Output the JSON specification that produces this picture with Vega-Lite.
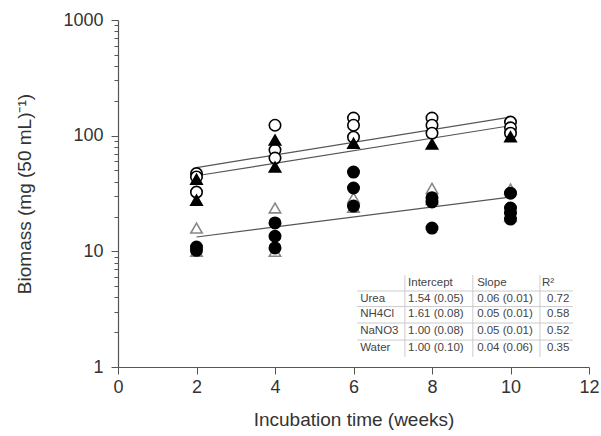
{
  "$schema": "https://vega.github.io/schema/vega-lite/v6.json",
  "width": 471,
  "height": 347,
  "autosize": {"type": "none"},
  "padding": {"left": 118, "top": 20, "right": 12, "bottom": 69},
  "background": "white",
  "config": {
    "view": {"stroke": null},
    "font": "Liberation Sans",
    "axis": {"grid": false, "domainColor": "#555", "tickColor": "#555", "labelColor": "#333", "titleColor": "#333", "labelFont": "Liberation Sans", "titleFont": "Liberation Sans", "titleFontWeight": "normal"}
  },
  "datasets": {
    "points": [
      {"week": 2, "biomass": 47, "treatment": "Urea"},
      {"week": 2, "biomass": 44, "treatment": "Urea"},
      {"week": 2, "biomass": 32.5, "treatment": "Urea"},
      {"week": 4, "biomass": 123, "treatment": "Urea"},
      {"week": 4, "biomass": 75, "treatment": "Urea"},
      {"week": 4, "biomass": 64, "treatment": "Urea"},
      {"week": 6, "biomass": 142, "treatment": "Urea"},
      {"week": 6, "biomass": 123, "treatment": "Urea"},
      {"week": 6, "biomass": 97, "treatment": "Urea"},
      {"week": 8, "biomass": 142, "treatment": "Urea"},
      {"week": 8, "biomass": 123, "treatment": "Urea"},
      {"week": 8, "biomass": 105, "treatment": "Urea"},
      {"week": 10, "biomass": 131, "treatment": "Urea"},
      {"week": 10, "biomass": 117, "treatment": "Urea"},
      {"week": 10, "biomass": 105, "treatment": "Urea"},
      {"week": 2, "biomass": 42, "treatment": "NH4Cl"},
      {"week": 2, "biomass": 27.7, "treatment": "NH4Cl"},
      {"week": 4, "biomass": 91.6, "treatment": "NH4Cl"},
      {"week": 4, "biomass": 53.6, "treatment": "NH4Cl"},
      {"week": 6, "biomass": 86, "treatment": "NH4Cl"},
      {"week": 8, "biomass": 84.6, "treatment": "NH4Cl"},
      {"week": 10, "biomass": 97.6, "treatment": "NH4Cl"},
      {"week": 2, "biomass": 15.9, "treatment": "Water"},
      {"week": 2, "biomass": 10, "treatment": "Water"},
      {"week": 4, "biomass": 23.7, "treatment": "Water"},
      {"week": 4, "biomass": 10, "treatment": "Water"},
      {"week": 6, "biomass": 29, "treatment": "Water"},
      {"week": 6, "biomass": 24, "treatment": "Water"},
      {"week": 8, "biomass": 35, "treatment": "Water"},
      {"week": 8, "biomass": 28, "treatment": "Water"},
      {"week": 10, "biomass": 34.5, "treatment": "Water"},
      {"week": 10, "biomass": 20, "treatment": "Water"},
      {"week": 2, "biomass": 10.9, "treatment": "NaNO3"},
      {"week": 2, "biomass": 10.2, "treatment": "NaNO3"},
      {"week": 4, "biomass": 17.6, "treatment": "NaNO3"},
      {"week": 4, "biomass": 13.5, "treatment": "NaNO3"},
      {"week": 4, "biomass": 10.7, "treatment": "NaNO3"},
      {"week": 6, "biomass": 48.4, "treatment": "NaNO3"},
      {"week": 6, "biomass": 35.3, "treatment": "NaNO3"},
      {"week": 6, "biomass": 24.6, "treatment": "NaNO3"},
      {"week": 8, "biomass": 29, "treatment": "NaNO3"},
      {"week": 8, "biomass": 26.7, "treatment": "NaNO3"},
      {"week": 8, "biomass": 15.9, "treatment": "NaNO3"},
      {"week": 10, "biomass": 31.8, "treatment": "NaNO3"},
      {"week": 10, "biomass": 23.7, "treatment": "NaNO3"},
      {"week": 10, "biomass": 21.4, "treatment": "NaNO3"},
      {"week": 10, "biomass": 19, "treatment": "NaNO3"}
    ],
    "fits": [
      {"fit": "A", "week": 2, "biomass": 53},
      {"fit": "A", "week": 10, "biomass": 145},
      {"fit": "B", "week": 2, "biomass": 45},
      {"fit": "B", "week": 10, "biomass": 122},
      {"fit": "C", "week": 2, "biomass": 13.3},
      {"fit": "C", "week": 10, "biomass": 29.5}
    ],
    "table": [
      {"col": 7.39, "row": 5.32, "text": "Intercept"},
      {"col": 9.15, "row": 5.32, "text": "Slope"},
      {"col": 10.8, "row": 5.32, "text": "R²"},
      {"col": 6.17, "row": 3.87, "text": "Urea"},
      {"col": 7.39, "row": 3.87, "text": "1.54 (0.05)"},
      {"col": 9.15, "row": 3.87, "text": "0.06 (0.01)"},
      {"col": 10.93, "row": 3.87, "text": "0.72"},
      {"col": 6.17, "row": 2.87, "text": "NH4Cl"},
      {"col": 7.39, "row": 2.87, "text": "1.61 (0.08)"},
      {"col": 9.15, "row": 2.87, "text": "0.05 (0.01)"},
      {"col": 10.93, "row": 2.87, "text": "0.58"},
      {"col": 6.17, "row": 2.03, "text": "NaNO3"},
      {"col": 7.39, "row": 2.03, "text": "1.00 (0.08)"},
      {"col": 9.15, "row": 2.03, "text": "0.05 (0.01)"},
      {"col": 10.93, "row": 2.03, "text": "0.52"},
      {"col": 6.17, "row": 1.46, "text": "Water"},
      {"col": 7.39, "row": 1.46, "text": "1.00 (0.10)"},
      {"col": 9.15, "row": 1.46, "text": "0.04 (0.06)"},
      {"col": 10.93, "row": 1.46, "text": "0.35"}
    ],
    "hlines": [{"row": 4.54}, {"row": 3.33}, {"row": 2.4}, {"row": 1.71}],
    "vlines": [{"col": 7.31}, {"col": 9.04}, {"col": 10.75}]
  },
  "layer": [
    {
      "data": {"name": "fits"},
      "mark": {"type": "line", "color": "#555", "strokeWidth": 1.2},
      "encoding": {
        "x": {"field": "week", "type": "quantitative", "scale": {"domain": [0, 12], "nice": false},
          "axis": {"values": [0,1,2,3,4,5,6,7,8,9,10,11,12], "labelExpr": "datum.value % 2 == 0 ? datum.label : ''",
            "tickSize": {"condition": {"test": "datum.value % 2 == 0", "value": 7}, "value": 4},
            "labelFontSize": 18, "labelPadding": 4, "title": "Incubation time (weeks)", "titleFontSize": 19, "titlePadding": 14, "domainWidth": 1.2, "labelFlush": false}},
        "y": {"field": "biomass", "type": "quantitative", "scale": {"type": "log", "domain": [1, 1000], "nice": false},
          "axis": {"values": [1,2,3,4,5,6,7,8,9,10,20,30,40,50,60,70,80,90,100,200,300,400,500,600,700,800,900,1000],
            "labelExpr": "(datum.value == 1 || datum.value == 10 || datum.value == 100 || datum.value == 1000) ? format(datum.value, 'd') : ''",
            "tickSize": {"condition": {"test": "datum.value == 1 || datum.value == 10 || datum.value == 100 || datum.value == 1000", "value": 7}, "value": 4},
            "labelOverlap": false, "labelFlush": false, "labelFontSize": 18, "labelPadding": 8,
            "title": "Biomass (mg (50 mL)⁻¹)", "titleFontSize": 19, "titlePadding": 28, "domainWidth": 1.2}},
        "detail": {"field": "fit"}
      }
    },
    {
      "data": {"name": "points"},
      "mark": {"type": "point", "filled": true, "size": 130, "strokeWidth": 1.6, "opacity": 1},
      "encoding": {
        "x": {"field": "week", "type": "quantitative"},
        "y": {"field": "biomass", "type": "quantitative"},
        "shape": {"field": "treatment", "type": "nominal", "scale": {"domain": ["Water", "Urea", "NH4Cl", "NaNO3"], "range": ["triangle-up", "circle", "triangle-up", "circle"]}, "legend": null},
        "fill": {"field": "treatment", "type": "nominal", "scale": {"domain": ["Water", "Urea", "NH4Cl", "NaNO3"], "range": ["white", "white", "black", "black"]}, "legend": null},
        "stroke": {"field": "treatment", "type": "nominal", "scale": {"domain": ["Water", "Urea", "NH4Cl", "NaNO3"], "range": ["#888", "black", "black", "black"]}, "legend": null},
        "order": {"field": "treatment", "sort": "descending"}
      }
    },
    {
      "mark": {"type": "text", "text": "H. fasciculare", "fontStyle": "italic", "fontSize": 17, "align": "left", "baseline": "middle", "color": "#222"},
      "encoding": {"x": {"datum": 0.3}, "y": {"datum": 700}}
    },
    {
      "mark": {"type": "rect", "fill": "white", "stroke": "#aaa", "strokeWidth": 1},
      "encoding": {"x": {"datum": 6.09}, "x2": {"datum": 11.59}, "y": {"datum": 6.24}, "y2": {"datum": 1.22}}
    },
    {
      "data": {"name": "hlines"},
      "mark": {"type": "rule", "color": "#ccc", "strokeWidth": 1},
      "encoding": {"x": {"datum": 6.09}, "x2": {"datum": 11.59}, "y": {"field": "row", "type": "quantitative"}}
    },
    {
      "data": {"name": "vlines"},
      "mark": {"type": "rule", "color": "#ccc", "strokeWidth": 1},
      "encoding": {"x": {"field": "col", "type": "quantitative"}, "y": {"datum": 6.24}, "y2": {"datum": 1.22}}
    },
    {
      "data": {"name": "table"},
      "mark": {"type": "text", "fontSize": 11.5, "align": "left", "baseline": "middle", "color": "#444"},
      "encoding": {"x": {"field": "col", "type": "quantitative"}, "y": {"field": "row", "type": "quantitative"}, "text": {"field": "text"}}
    }
  ]
}
